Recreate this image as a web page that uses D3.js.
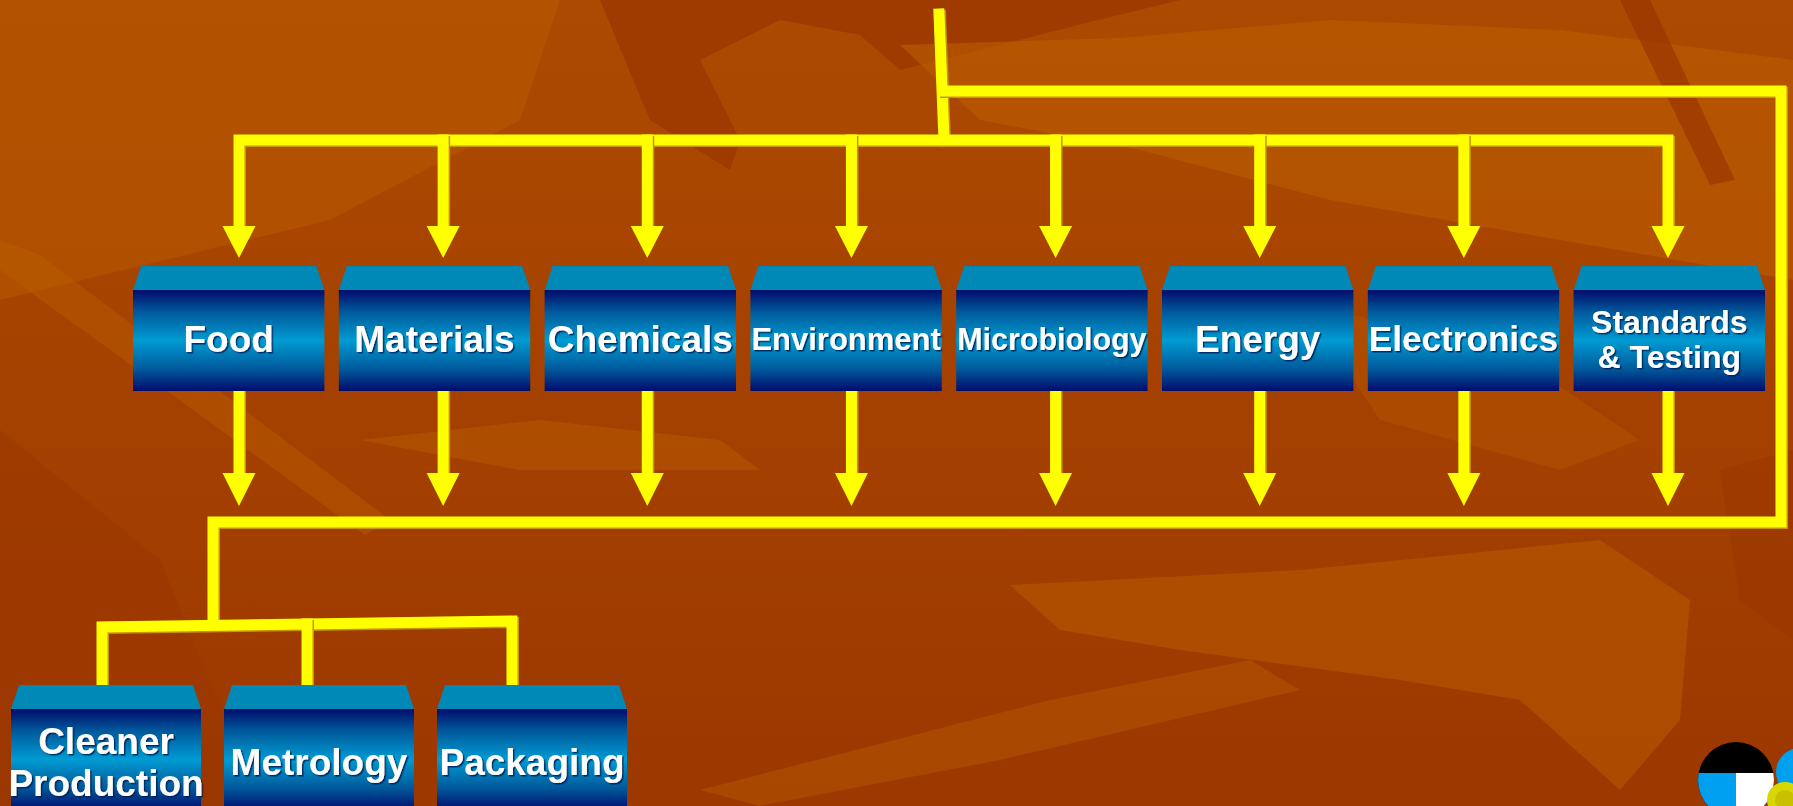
<!DOCTYPE html>
<html>
<head>
<meta charset="utf-8">
<script src="https://cdn.jsdelivr.net/npm/d3@7"></script>
<style>
  html, body { margin: 0; padding: 0; background: #a24000; overflow: hidden; }
  svg { display: block; }
</style>
</head>
<body>
<svg id="drawing_region"></svg>
<script>
// categories of the diagram
const topCategories = ['Food', 'Materials', 'Chemicals', 'Environment', 'Microbiology', 'Energy', 'Electronics', 'Standards\n& Testing'];
const bottomCategories = ['Cleaner\nProduction', 'Metrology', 'Packaging'];

// background decoration (leaf-like streaks)
const bgShapes = [
    { fill: '#b85a00', op: 0.55, pts: [[0,0],[560,0],[520,120],[330,220],[0,300]] },
    { fill: '#9a3500', op: 0.7, pts: [[600,0],[1180,0],[1090,22],[980,50],[900,70],[860,35],[780,20],[700,60],[740,140],[730,170],[650,120]] },
    { fill: '#bb5e00', op: 0.6, pts: [[900,45],[1120,38],[1330,20],[1560,30],[1793,60],[1793,280],[1560,240],[1330,200],[1140,150],[980,120]] },
    { fill: '#9a3500', op: 0.7, pts: [[1620,0],[1650,0],[1735,180],[1710,185]] },
    { fill: '#bb5e00', op: 0.45, pts: [[0,240],[40,255],[390,520],[365,535],[0,270]] },
    { fill: '#9a3500', op: 0.5, pts: [[0,430],[160,560],[260,806],[0,806]] },
    { fill: '#bb5e00', op: 0.45, pts: [[360,440],[540,420],[720,440],[760,470],[520,470]] },
    { fill: '#bb5e00', op: 0.5, pts: [[1010,585],[1300,570],[1600,540],[1690,600],[1680,720],[1620,790],[1520,700],[1400,680],[1180,650],[1060,630]] },
    { fill: '#bb5e00', op: 0.4, pts: [[700,790],[1050,700],[1250,660],[1300,690],[1000,760],[760,806]] },
    { fill: '#b35300', op: 0.5, pts: [[1300,300],[1520,360],[1640,440],[1560,470],[1380,420]] },
    { fill: '#9a3500', op: 0.45, pts: [[1720,470],[1793,450],[1793,640],[1740,600]] }
];

class FlowDiagram {

    constructor( config ) {
        this.config = {
            parent: config.parent,
            width: config.width || 1793,
            height: config.height || 806,
            lineWidth: config.lineWidth || 11,
            lineColor: config.lineColor || '#ffff00'
        };
        this.init();
    }

    init() {
        let self = this;

        self.svg = d3.select( self.config.parent )
            .attr('width', self.config.width)
            .attr('height', self.config.height);

        const defs = self.svg.append('defs');

        const grad = defs.append('linearGradient')
            .attr('id', 'front_grad')
            .attr('x1', 0).attr('y1', 0).attr('x2', 0).attr('y2', 1);
        [['0%', '#000c6c'], ['22%', '#005a9c'], ['50%', '#009bd2'], ['78%', '#005a9c'], ['100%', '#000c6c']]
            .forEach( s => grad.append('stop').attr('offset', s[0]).attr('stop-color', s[1]) );

        const bg = defs.append('linearGradient')
            .attr('id', 'bg_grad')
            .attr('x1', 0).attr('y1', 0).attr('x2', 0).attr('y2', 1);
        bg.append('stop').attr('offset', '0%').attr('stop-color', '#ad4a00');
        bg.append('stop').attr('offset', '100%').attr('stop-color', '#9c3800');

        const shadow = defs.append('filter').attr('id', 'txt_shadow')
            .attr('x', '-10%').attr('y', '-10%').attr('width', '120%').attr('height', '130%');
        shadow.append('feDropShadow')
            .attr('dx', 1.5).attr('dy', 1.5).attr('stdDeviation', 0.6)
            .attr('flood-color', '#001a50').attr('flood-opacity', 0.8);

        self.svg.append('rect')
            .attr('width', self.config.width)
            .attr('height', self.config.height)
            .attr('fill', 'url(#bg_grad)');

        self.bg_layer = self.svg.append('g');
        self.line_layer = self.svg.append('g');
        self.box_layer = self.svg.append('g');
        self.logo_layer = self.svg.append('g');

        // box scales
        self.top_scale = d3.scaleBand()
            .domain( topCategories )
            .range( [133, 1765] )
            .paddingInner( 0.07 );

        self.bottom_scale = d3.scaleBand()
            .domain( bottomCategories )
            .range( [11, 627] )
            .paddingInner( 0.108 );

        // connector scales
        self.top_arrow = d3.scalePoint()
            .domain( topCategories )
            .range( [239, 1668] );

        self.bottom_link = d3.scalePoint()
            .domain( bottomCategories )
            .range( [102, 512] );
    }

    render() {
        let self = this;
        const lw = self.config.lineWidth;
        const lc = self.config.lineColor;

        // background streaks
        self.bg_layer.selectAll('polygon')
            .data( bgShapes )
            .join('polygon')
            .attr('points', d => d.pts.map( p => p.join(',') ).join(' '))
            .attr('fill', d => d.fill)
            .attr('opacity', d => d.op);

        const line = d3.line();
        const drawPath = ( pts ) => {
            self.line_layer.append('path')
                .attr('d', line( pts ))
                .attr('fill', 'none')
                .attr('stroke', '#c99400')
                .attr('stroke-width', lw)
                .attr('stroke-linejoin', 'miter')
                .attr('stroke-linecap', 'square')
                .attr('transform', 'translate(1.5,1.5)');
            self.line_layer.append('path')
                .attr('d', line( pts ))
                .attr('fill', 'none')
                .attr('stroke', lc)
                .attr('stroke-width', lw)
                .attr('stroke-linejoin', 'miter')
                .attr('stroke-linecap', 'square');
        };

        const x0 = self.top_arrow( topCategories[0] );
        const x1 = self.top_arrow( topCategories[topCategories.length - 1] );
        const busTop = 140, loopTop = 91, busBottom = 522, rightX = 1781;

        // main feed and loop
        drawPath( [[939, 14], [944, busTop]] );
        drawPath( [[944, loopTop], [rightX, loopTop], [rightX, busBottom]] );
        drawPath( [[x0, 227], [x0, busTop], [x1, busTop], [x1, 227]] );
        drawPath( [[rightX, busBottom], [213, busBottom], [213, 624]] );

        // top arrows
        topCategories.slice(1, -1).forEach( c => {
            drawPath( [[self.top_arrow(c), busTop], [self.top_arrow(c), 227]] );
        });
        topCategories.forEach( c => {
            drawPath( [[self.top_arrow(c), 391], [self.top_arrow(c), 474]] );
        });

        const heads = [];
        topCategories.forEach( c => {
            heads.push( { x: self.top_arrow(c), y0: 226, y1: 258 } );
            heads.push( { x: self.top_arrow(c), y0: 473, y1: 506 } );
        });
        self.line_layer.selectAll('polygon.head')
            .data( heads )
            .join('polygon')
            .attr('class', 'head')
            .attr('points', d => `${d.x - 16.5},${d.y0} ${d.x + 16.5},${d.y0} ${d.x},${d.y1}`)
            .attr('fill', lc);

        // bottom sub-bus
        const bx0 = self.bottom_link( bottomCategories[0] );
        const bx1 = self.bottom_link( bottomCategories[bottomCategories.length - 1] );
        drawPath( [[bx0, 690], [bx0, 627], [bx1, 621], [bx1, 688]] );
        bottomCategories.slice(1, -1).forEach( c => {
            drawPath( [[self.bottom_link(c), 624], [self.bottom_link(c), 688]] );
        });

        // boxes
        self.drawBoxes( topCategories, self.top_scale, 266, 24, 101, 'top' );
        self.drawBoxes( bottomCategories, self.bottom_scale, 685, 24, 101, 'bottom' );

        self.drawLogo();
    }

    drawBoxes( cats, scale, top, faceH, frontH, row ) {
        let self = this;
        const w = scale.bandwidth();
        const inset = 8;

        const g = self.box_layer.selectAll(`g.box_${row}`)
            .data( cats )
            .join('g')
            .attr('class', `box_${row}`)
            .attr('transform', d => `translate(${scale(d)}, ${top})`);

        g.append('polygon')
            .attr('points', `${inset},0 ${w - inset},0 ${w},${faceH} 0,${faceH}`)
            .attr('fill', '#0088b6');

        g.append('rect')
            .attr('y', faceH)
            .attr('width', w)
            .attr('height', frontH)
            .attr('fill', 'url(#front_grad)');

        g.each( function( d ) {
            const lines = d.split('\n');
            const base = ( lines.length > 1 && row === 'top' ) ? 32 : 37;
            const cy = faceH + ( row === 'top' ? frontH / 2 : 55 );
            const lh = row === 'top' ? base * 1.1 : base * 1.15;
            const t = d3.select(this).append('text')
                .attr('text-anchor', 'middle')
                .attr('font-family', 'Liberation Sans, Arial, sans-serif')
                .attr('font-weight', 'bold')
                .attr('font-size', base)
                .attr('fill', '#ffffff')
                .attr('filter', 'url(#txt_shadow)');
            lines.forEach( ( l, i ) => {
                t.append('tspan')
                    .attr('x', w / 2)
                    .attr('y', cy + ( i - ( lines.length - 1 ) / 2 ) * lh + base * 0.3)
                    .text( l );
            });
            // shrink long single labels in the top row to fit the box
            const tw = d3.max( t.selectAll('tspan').nodes(), n => n.getComputedTextLength() );
            if ( row === 'top' && tw > w - 2 ) {
                const fs = base * ( w - 2 ) / tw;
                t.attr('font-size', fs);
                t.selectAll('tspan')
                    .attr('y', ( _, i ) => cy + ( i - ( lines.length - 1 ) / 2 ) * fs * 1.1 + fs * 0.3);
            }
        });
    }

    drawLogo() {
        let self = this;
        const g = self.logo_layer;
        const cx = 1736, cy = 780, r = 38;

        const clip = self.svg.select('defs').append('clipPath').attr('id', 'logo_clip');
        clip.append('circle').attr('cx', cx).attr('cy', cy).attr('r', r);

        const c = g.append('g').attr('clip-path', 'url(#logo_clip)');
        c.append('rect').attr('x', cx - r).attr('y', cy - r).attr('width', 2 * r).attr('height', 2 * r).attr('fill', '#000000');
        c.append('rect').attr('x', cx - r).attr('y', 773).attr('width', r).attr('height', r).attr('fill', '#00a0f0');
        c.append('rect').attr('x', cx).attr('y', 773).attr('width', r).attr('height', r).attr('fill', '#ffffff');

        g.append('circle').attr('cx', 1800).attr('cy', 772).attr('r', 24).attr('fill', '#00a0f0');
        g.append('circle').attr('cx', 1785).attr('cy', 800).attr('r', 18).attr('fill', '#d8d800');
        g.append('circle').attr('cx', 1785).attr('cy', 800).attr('r', 10).attr('fill', '#c8c000');
    }
}

const diagram = new FlowDiagram( { parent: '#drawing_region', width: 1793, height: 806 } );
diagram.render();
</script>
</body>
</html>
